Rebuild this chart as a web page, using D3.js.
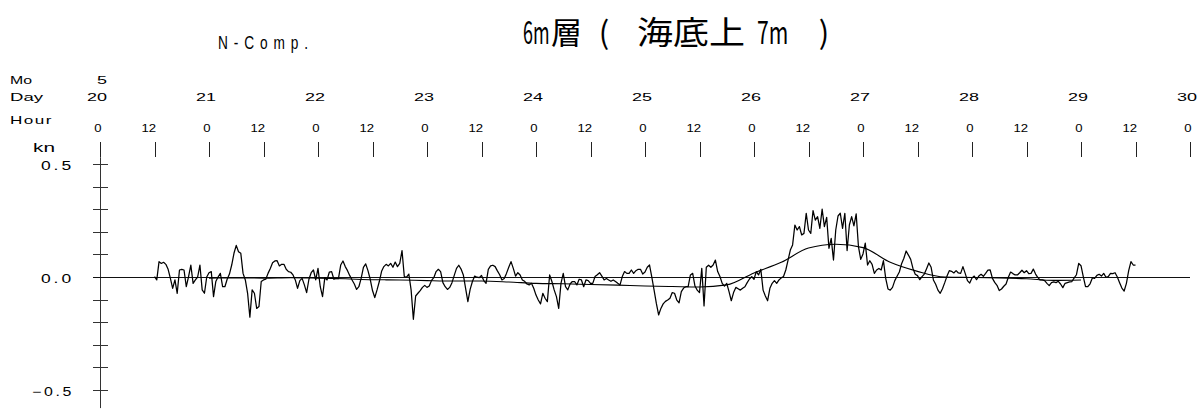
<!DOCTYPE html>
<html>
<head>
<meta charset="utf-8">
<script src="https://cdn.jsdelivr.net/npm/d3@7"></script>
<style>
  body { margin: 0; background: #fff; }
  svg { display: block; }
</style>
</head>
<body>
<svg id="chart" width="1200" height="409"></svg>
<script>
// ---- data -------------------------------------------------------------
const month = "5";
const days = [20, 21, 22, 23, 24, 25, 26, 27, 28, 29, 30];
const hourTicks = d3.range(0, 241, 12);          // hours since day 20, 00h
const yTicks = d3.range(-5, 6).map(d => d / 10); // minor ticks every 0.1 kn
const yLabels = [0.5, 0.0, -0.5];

// half-hourly north component (kn), first value at day 20 12h
const rawStart = 12;
const rawStep = 0.5;
const rawN = [
  // day 20 12h - day 22 15h30
  0.002,-0.013, 0.068, 0.060, 0.065, 0.056, 0.034,-0.006,-0.050,-0.013,
 -0.072, 0.031, 0.034, 0.031,-0.043, 0.002, 0.053,-0.028,-0.013, 0.000,
  0.053,-0.057,-0.072, 0.000, 0.019, 0.024,-0.087,-0.020, 0.000, 0.016,
 -0.043,-0.043,-0.010, 0.013, 0.053, 0.105, 0.140, 0.112, 0.105, 0.016,
 -0.013,-0.072,-0.178,-0.057,-0.072,-0.139,-0.131,-0.020,-0.013,-0.010,
  0.016, 0.038, 0.063, 0.071, 0.072, 0.049, 0.056, 0.056, 0.034, 0.024,
  0.021, 0.009,-0.013,-0.050,-0.016,-0.006,-0.035,-0.069,-0.010, 0.019,
  0.031,-0.013, 0.038,-0.043,-0.087,-0.003,-0.013, 0.022, 0.024,-0.010,
 -0.006,-0.007, 0.053, 0.071, 0.046, 0.028, 0.006,-0.013,-0.031,-0.055,
 -0.043,-0.006, 0.043, 0.058, 0.028,-0.010,-0.060,-0.091,-0.057,-0.020,
  0.025, 0.046, 0.056, 0.049,
  // day 22 16h - day 24 20h30
  0.060, 0.043, 0.066, 0.046, 0.060, 0.117, 0.002,-0.001, 0.013,-0.057,
 -0.187,-0.084,-0.072,-0.060,-0.046,-0.037,-0.046,-0.040,-0.015,-0.003,
  0.024, 0.034, 0.024,-0.025,-0.043,-0.055,-0.046,-0.025, 0.007, 0.038,
  0.052, 0.035, 0.009,-0.050,-0.109,-0.055,-0.020, 0.004,-0.001,-0.003,
  0.007,-0.016,-0.028, 0.034, 0.049, 0.052, 0.046, 0.027, 0.010,-0.013,
 -0.007, 0.016, 0.043, 0.068, 0.038, 0.004, 0.019, 0.009,-0.013,-0.019,
 -0.031,-0.035,-0.028,-0.050,-0.080,-0.102,-0.119,-0.072,-0.094,-0.109,
  0.009,-0.020,-0.057,-0.087,-0.139,-0.028, 0.016,-0.043,-0.057,-0.031,
 -0.020,-0.020,-0.035,-0.010,-0.013,-0.043,-0.013,-0.016,-0.028,-0.028,
  0.002, 0.010, 0.019, 0.004,-0.013,-0.007,-0.013,-0.019,-0.013,-0.020,
 -0.028,-0.035, 0.002, 0.024, 0.016, 0.016,
  // day 24 21h - day 27 00h30
  0.031, 0.016, 0.028, 0.034, 0.034, 0.013, 0.022, 0.043, 0.053,-0.001,
 -0.058,-0.117,-0.168,-0.139,-0.119,-0.108,-0.102,-0.094,-0.069,-0.072,
 -0.102,-0.114,-0.065,-0.049,-0.043,-0.043, 0.009, 0.016,-0.040,-0.058,
 -0.069, 0.038,-0.128, 0.043, 0.052, 0.043, 0.053, 0.075, 0.024, 0.002,
 -0.028,-0.040,-0.028,-0.065,-0.105,-0.069,-0.046,-0.052,-0.058,-0.050,
 -0.043,-0.025,-0.009, 0.002,-0.010, 0.024, 0.009, 0.034,-0.058,-0.084,
 -0.105,-0.050,-0.028,-0.016,-0.028,-0.013,-0.004, 0.002, 0.031, 0.075,
  0.119, 0.142, 0.230, 0.208, 0.223, 0.186, 0.193, 0.282, 0.208, 0.193,
  0.294, 0.252, 0.267, 0.215, 0.300, 0.223, 0.264, 0.127, 0.171, 0.075,
  0.208, 0.270, 0.282, 0.215, 0.282, 0.117, 0.230, 0.267, 0.226, 0.279,
  0.134, 0.078, 0.102, 0.150,
  // day 27 01h - day 29 12h
  0.053, 0.072, 0.056, 0.016, 0.031, 0.038, 0.031, 0.072,-0.006,-0.053,
 -0.058,-0.046,-0.016, 0.003, 0.022, 0.059, 0.083, 0.115, 0.097, 0.078,
  0.038, 0.012, 0.006,-0.012, 0.002, 0.013, 0.037, 0.062, 0.043,-0.013,
 -0.032,-0.058,-0.072,-0.052,-0.025, 0.004, 0.028, 0.025, 0.018, 0.028,
  0.018, 0.016, 0.046, 0.016,-0.016,-0.027,-0.004, 0.004,-0.012, 0.004,
  0.012, 0.003, 0.016, 0.030, 0.031,-0.006,-0.024,-0.037,-0.060,-0.053,
 -0.041,-0.031,-0.001, 0.022, 0.015, 0.009, 0.009, 0.019, 0.030, 0.019,
  0.028, 0.015, 0.016, 0.035, 0.013,-0.003,-0.013,-0.013,-0.016,-0.028,
 -0.038,-0.025,-0.022,-0.025,-0.019,-0.031,-0.047,-0.028,-0.025,-0.022,
 -0.020,-0.004, 0.010, 0.060, 0.050, 0.002,-0.043,-0.043,-0.030,-0.004,
 -0.006, 0.007, 0.012, 0.004, 0.016,-0.001, 0.002, 0.016, 0.015, 0.019,
  0.000,-0.025,-0.049,-0.062,-0.028, 0.028, 0.068, 0.053, 0.053
];

// low-passed north component (kn), every 6 h from day 21 00h
const smoothStart = 24;
const smoothStep = 6;
const smoothN = [
 -0.005,-0.004,-0.005,-0.003,-0.005,-0.008,-0.012,-0.013,-0.016,-0.018,-0.018,
 -0.022,-0.028,-0.030,-0.033,-0.036,-0.040,-0.042,-0.044,-0.035, 0.018, 0.065,
  0.128, 0.145, 0.130, 0.065, 0.025, 0.000,-0.002,-0.004,-0.008,-0.015,-0.013
];

// ---- layout -----------------------------------------------------------
const svg = d3.select("#chart");
const x = d3.scaleLinear().domain([0, 240]).range([100, 1190]);
const y = d3.scaleLinear().domain([-0.5, 0.5]).range([390, 164]);
const fmt = d3.format(".1f");

const labelFont = "'Liberation Sans', Arial, sans-serif";

function label(parent, txt, px, py, o = {}) {
  const t = parent.append("text")
    .attr("x", px).attr("y", py)
    .attr("font-family", o.family || labelFont)
    .attr("font-size", o.size || 11.5)
    .attr("text-anchor", o.anchor || "start")
    .attr("fill", "#000")
    .text(txt);
  if (o.spacing) t.attr("letter-spacing", o.spacing);
  if (o.width) {
    t.attr("textLength", o.width)
     .attr("lengthAdjust", o.adjust || "spacingAndGlyphs");
  }
  return t;
}

// narrow lettering: draw inside a horizontally squeezed group
function narrow(parent, sx, txt, px, py, o = {}) {
  const g = parent.append("g").attr("transform", `scale(${sx},1)`);
  return label(g, txt, px / sx, py, o);
}

// ---- titles -----------------------------------------------------------
narrow(svg, 0.72, "N-Comp.", 218, 49.5, { size: 19, width: 90 / 0.72, adjust: "spacing" });

const cjk = "'Noto Sans CJK JP', 'Noto Sans CJK SC', sans-serif";
const title = svg.append("g").attr("class", "title");
narrow(title, 0.56, "6m", 523, 44, { family: cjk, size: 32 });
label(title, "層", 551, 44, { family: cjk, size: 31 });
label(title, "(", 604, 44, { family: cjk, size: 31, anchor: "middle" });
label(title, "海底上", 637, 44, { family: cjk, size: 32, width: 108 });
narrow(title, 0.66, "7m", 757, 44, { family: cjk, size: 32 });
label(title, ")", 824, 44, { family: cjk, size: 31, anchor: "middle" });

// ---- time axis header -------------------------------------------------
const head = svg.append("g").attr("class", "time-axis");
label(head, "Mo", 10, 83.5, { width: 22 });
label(head, month, x(0) + 7, 83.5, { anchor: "end", width: 10 });
label(head, "Day", 10, 101, { width: 33 });
label(head, "Hour", 10, 123.5, { width: 43, spacing: 1 });
label(head, "kn", 33, 151.7, { size: 12, width: 22 });

days.forEach((d, i) => {
  label(head, String(d), x(i * 24) + 7, 101, { anchor: "end", width: 20 });
});

hourTicks.forEach(h => {
  const s = String(h % 24);
  label(head, s, x(h) + 1.5, 132, { anchor: "end", size: 10, width: s.length * 7.3 });
});

head.selectAll("line.hour")
  .data(hourTicks)
  .join("line")
  .attr("class", "hour")
  .attr("x1", d => Math.round(x(d)) + 0.5).attr("x2", d => Math.round(x(d)) + 0.5)
  .attr("y1", 142).attr("y2", 157)
  .attr("stroke", "#222").attr("stroke-width", 1);

// ---- value axis -------------------------------------------------------
const yAxis = svg.append("g").attr("class", "value-axis");
yAxis.append("line")
  .attr("x1", x(0) + 0.5).attr("x2", x(0) + 0.5)
  .attr("y1", y(0.53)).attr("y2", y(-0.58))
  .attr("stroke", "#333").attr("stroke-width", 1);

yAxis.selectAll("line.tick")
  .data(yTicks)
  .join("line")
  .attr("class", "tick")
  .attr("x1", x(0) - 7).attr("x2", x(0) + 8)
  .attr("y1", d => Math.round(y(d)) + 0.5).attr("y2", d => Math.round(y(d)) + 0.5)
  .attr("stroke", "#333").attr("stroke-width", 1);

yLabels.forEach(v => {
  const s = fmt(v);
  label(yAxis, s, 74, y(v) + 5.5, {
    anchor: "end", size: 12, spacing: 2, width: s.length === 3 ? 33 : 42
  });
});

// zero reference line
svg.append("line")
  .attr("x1", x(0) - 7).attr("x2", x(240))
  .attr("y1", Math.round(y(0)) + 0.5).attr("y2", Math.round(y(0)) + 0.5)
  .attr("stroke", "#111").attr("stroke-width", 1);

// ---- series -----------------------------------------------------------
const rawPts = rawN.map((v, i) => [rawStart + i * rawStep, v]);
const smoothPts = smoothN.map((v, i) => [smoothStart + i * smoothStep, v]);

const line = d3.line().x(d => x(d[0])).y(d => y(d[1]));
const smoothLine = d3.line().x(d => x(d[0])).y(d => y(d[1])).curve(d3.curveMonotoneX);

svg.append("path")
  .datum(rawPts)
  .attr("d", line)
  .attr("fill", "none")
  .attr("stroke", "#000")
  .attr("stroke-width", 1.25)
  .attr("stroke-linejoin", "round");

svg.append("path")
  .datum(smoothPts)
  .attr("d", smoothLine)
  .attr("fill", "none")
  .attr("stroke", "#000")
  .attr("stroke-width", 1.1);
</script>
</body>
</html>
